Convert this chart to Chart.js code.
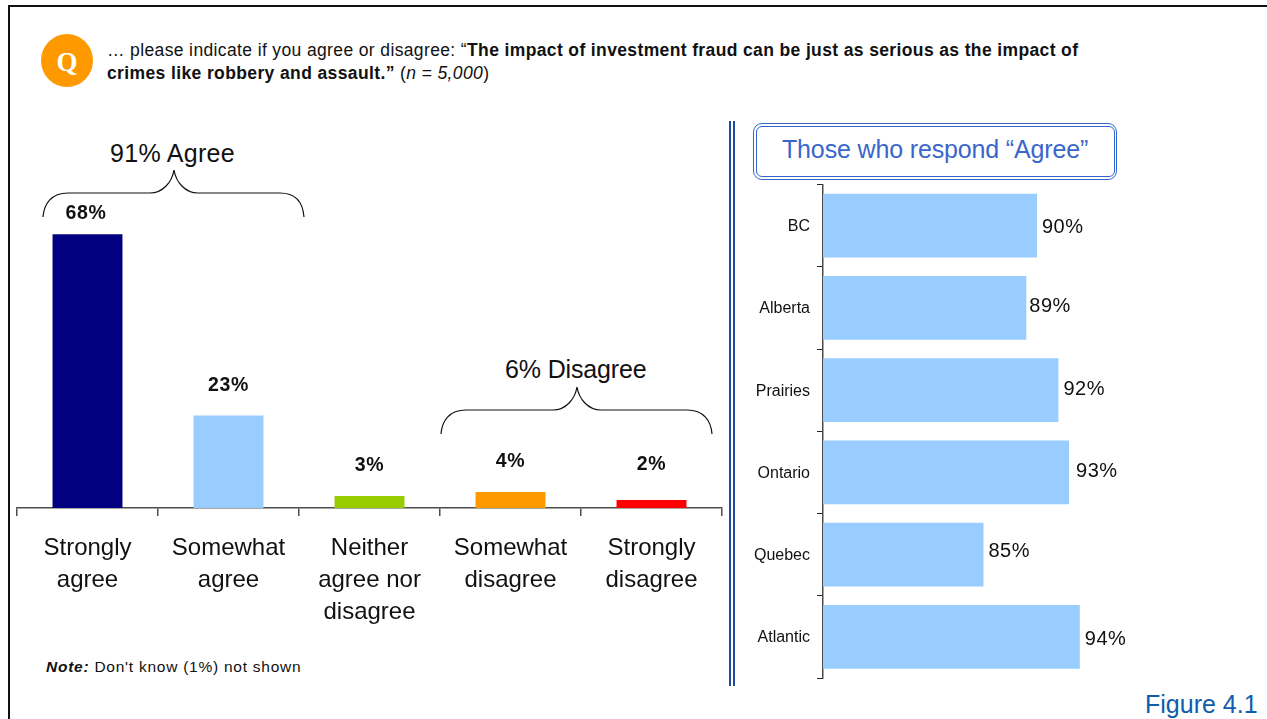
<!DOCTYPE html>
<html><head><meta charset="utf-8">
<script src="https://cdn.jsdelivr.net/npm/chart.js@4"></script>
<style>
html,body{margin:0;padding:0;background:#fff;width:1267px;height:719px;overflow:hidden;font-family:"Liberation Sans",Arial,sans-serif;color:#111}
canvas{position:absolute}
.t{position:absolute;white-space:nowrap}
#frameT{position:absolute;left:8px;top:5px;width:1259px;height:2px;background:#111}
#frameL{position:absolute;left:8px;top:5px;width:2px;height:714px;background:#111}
#q{position:absolute;left:41px;top:34px;width:52px;height:53px;border-radius:50%;background:#ff9900;color:#fff;font:bold 27px "Liberation Serif",serif;text-align:center;line-height:57px}
.sep{position:absolute;top:121px;width:2px;height:565px;background:#1f4aa8}
#box{position:absolute;left:753px;top:122.5px;width:362px;height:55px;border:1.5px solid #3366cc;border-radius:9px;background:#fff}
#box2{position:absolute;left:755.5px;top:125.5px;width:357px;height:49px;border:1.5px solid #3366cc;border-radius:6px}
</style></head><body>
<div id="frameT"></div><div id="frameL"></div>
<div id="q">Q</div>
<div class="t" style="left:107px;top:40px;font-size:17.5px;line-height:20px;letter-spacing:.37px">… please indicate if you agree or disagree: “<b>The impact of investment fraud can be just as serious as the impact of</b></div>
<div class="t" style="left:107px;top:63px;font-size:17.5px;line-height:20px;letter-spacing:.38px"><b>crimes like robbery and assault.”</b> (<i>n = 5,000</i>)</div>
<div class="t" style="left:110px;top:138px;font-size:25px;line-height:30px;letter-spacing:.3px">91% Agree</div>
<div class="t" style="left:505px;top:354px;font-size:25px;line-height:30px;letter-spacing:-.15px">6% Disagree</div>
<svg style="position:absolute;left:0;top:0" width="1267" height="719" fill="none" stroke="#111" stroke-width="1.2">
<path d="M43 217C44 204 51 193 68 193H150C163 193 172 182 174 170C176 182 185 193 198 193H280C297 193 303 204 304 217"/>
<path d="M441 434C442 421 449 410 466 410H553C566 410 575 399 577 387C579 399 588 410 601 410H687C704 410 711 421 712 434"/>
</svg>
<div class="t" style="left:46px;top:658px;font-size:15.5px;line-height:18px;letter-spacing:.75px"><b><i>Note:</i></b> Don't know (1%) not shown</div>
<div class="sep" style="left:729px"></div><div class="sep" style="left:732.6px"></div>
<div id="box"></div><div id="box2"></div>
<div class="t" style="left:782px;top:134px;font-size:25px;line-height:30px;color:#3a66cc;letter-spacing:-.15px">Those who respond “Agree”</div>
<div class="t" style="left:1145px;top:689px;font-size:25px;line-height:30px;color:#0f5cac">Figure 4.1</div>
<canvas id="c1" width="728" height="470" style="left:0;top:180px"></canvas>
<canvas id="c2" width="500" height="530" style="left:740px;top:168px"></canvas>
<script>
const responseLabels = [["Strongly","agree"],["Somewhat","agree"],["Neither","agree nor","disagree"],["Somewhat","disagree"],["Strongly","disagree"]];
const responseValues = [68,23,3,4,2];
const responseColors = ["#000080","#99ccff","#99cc00","#ff9900","#ff0000"];
const regionLabels = ["BC","Alberta","Prairies","Ontario","Quebec","Atlantic"];
const regionValues = [90,89,92,93,85,94];
const regionColor = "#99ccff";

const ink = "#111";
const axisGrey = "#4d4d4d";
const sans = '"Liberation Sans", Arial, sans-serif';
Chart.defaults.animation = false;

function barLabels(font, spacing, place){
  return { id:"barLabels", afterDatasetsDraw(chart){
    const ctx = chart.ctx, meta = chart.getDatasetMeta(0);
    ctx.save(); ctx.font = font; ctx.letterSpacing = spacing; ctx.fillStyle = ink; ctx.textBaseline = "middle";
    meta.data.forEach((el,i)=>{
      const p = place(el,i);
      ctx.textAlign = p.align;
      ctx.fillText(chart.data.datasets[0].data[i] + "%", p.x, p.y);
    });
    ctx.restore();
  }};
}
const leftGap = [21,30,30,30,35];
new Chart(document.getElementById("c1"),{
  type:"bar",
  data:{labels:responseLabels,datasets:[{data:responseValues,backgroundColor:responseColors,categoryPercentage:1,barPercentage:0.496}]},
  options:{responsive:false,maintainAspectRatio:false,
    layout:{padding:{left:17,right:6,top:6,bottom:0}},
    plugins:{legend:{display:false},tooltip:{enabled:false}},
    scales:{
      y:{display:false,min:0,max:80},
      x:{offset:true,afterFit(s){s.height=142;},
        border:{color:axisGrey,width:1.5},
        grid:{drawOnChartArea:false,tickLength:8,color:axisGrey,lineWidth:1.5},
        ticks:{color:ink,padding:16,maxRotation:0,autoSkip:false,font:{family:sans,size:24,lineHeight:32/24}}}
    }},
  plugins:[barLabels('bold 19.5px '+sans,'.6px',(el,i)=>({x:el.x-(i===0?1.5:0),y:el.y-leftGap[i],align:"center"}))]
});
const rightGap = [5,3,5,7,5,5];
const rightShift = [2,-1,-1,-1,-3,3];
new Chart(document.getElementById("c2"),{
  type:"bar",
  data:{labels:regionLabels,datasets:[{data:regionValues,backgroundColor:regionColor,categoryPercentage:1,barPercentage:0.775}]},
  options:{responsive:false,maintainAspectRatio:false,indexAxis:"y",
    layout:{padding:{left:0,right:96,top:13,bottom:20}},
    plugins:{legend:{display:false},tooltip:{enabled:false}},
    scales:{
      x:{display:false,min:70,max:100},
      y:{offset:true,afterFit(s){s.width=83;},
        border:{color:axisGrey,width:1.5},
        grid:{drawOnChartArea:false,tickLength:6,color:"#222",lineWidth:1},
        ticks:{color:ink,padding:7,autoSkip:false,labelOffset:1,font:{family:sans,size:16}}}
    }},
  plugins:[barLabels('20px '+sans,'.5px',(el,i)=>({x:el.x+rightGap[i],y:el.y+rightShift[i],align:"left"}))]
});
</script>
</body></html>
